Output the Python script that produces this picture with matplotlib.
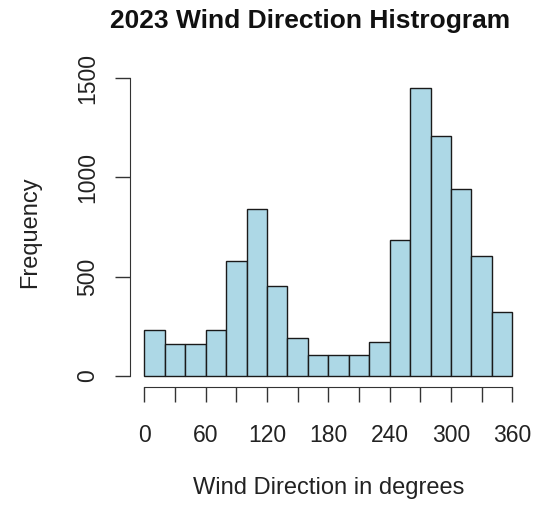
import matplotlib
matplotlib.use('Agg')
import numpy as np
import matplotlib.pyplot as plt

plt.rcParams['font.family'] = ['Liberation Sans', 'DejaVu Sans']

# histogram bins (20 degree wide) and counts
bin_edges = list(range(0, 361, 20))
counts = [232, 161, 161, 232, 580, 842, 454, 190, 108, 108, 108, 173,
          685, 1450, 1210, 942, 605, 324]
x_ticks = list(range(0, 361, 30))
x_labels = ['0', '', '60', '', '120', '', '180', '', '240', '', '300', '', '360']
y_ticks = [0, 500, 1000, 1500]

fig = plt.figure(figsize=(5.49, 5.05), dpi=100)
ax = fig.add_axes([0.236, 0.2327, 0.724, 0.6155])

ax.hist(np.array(bin_edges[:-1]) + 10, bins=bin_edges, weights=counts,
        color='#add8e6', edgecolor='#1a1a1a', linewidth=1.0)

ax.set_xlim(-14.4, 374.4)
ax.set_ylim(-58, 1508)
ax.set_xticks(x_ticks)
ax.set_xticklabels(x_labels)
ax.set_yticks(y_ticks)
ax.set_yticklabels([str(v) for v in y_ticks], rotation=90, va='center')

for s in ['top', 'right']:
    ax.spines[s].set_visible(False)
ax.spines['bottom'].set_bounds(0, 360)
ax.spines['left'].set_bounds(0, 1500)
ax.spines['bottom'].set_color('#333333')
ax.spines['left'].set_color('#333333')
ax.tick_params(length=11, width=1, color='#333333', labelsize=16.5,
               labelcolor='#222222')
ax.tick_params(axis='x', pad=15)
ax.tick_params(axis='y', pad=11)

ax.set_xlabel('Wind Direction in degrees', fontsize=17, color='#222222', labelpad=22)
ax.set_ylabel('Frequency', fontsize=17, color='#222222', labelpad=25)
fig.text(310 / 549, 1 - 21 / 505, '2023 Wind Direction Histrogram', ha='center',
         va='center', fontsize=19, fontweight='bold', color='#111111')

fig.savefig('out.png', dpi=100)
